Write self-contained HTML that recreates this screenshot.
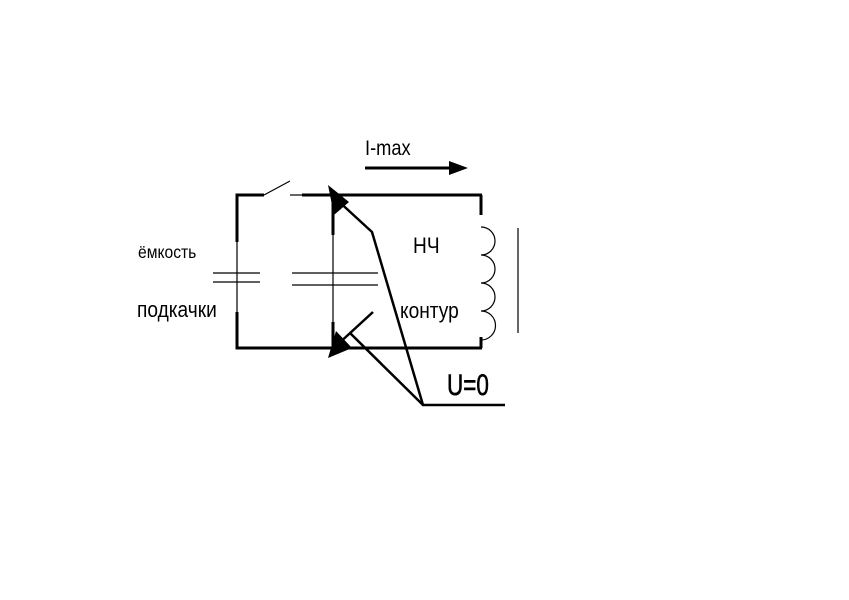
<!DOCTYPE html>
<html><head><meta charset="utf-8"><style>body{margin:0;background:#fff}svg{display:block}</style></head><body>
<svg width="849" height="600" viewBox="0 0 849 600" xmlns="http://www.w3.org/2000/svg" font-family="Liberation Sans, sans-serif">
<g stroke="#000" fill="none" stroke-width="3">
<polyline points="237,242 237,195 264,195"/>
<line x1="302" y1="195" x2="482" y2="195"/>
<line x1="481" y1="195" x2="481" y2="215"/>
<polyline points="237,312 237,348 482,348"/>
<line x1="481" y1="337" x2="481" y2="348"/>
<line x1="333" y1="195" x2="333" y2="235"/>
<line x1="333" y1="322" x2="333" y2="348"/>
<line x1="365" y1="168" x2="450" y2="168"/>
</g>
<g stroke="#000" fill="none" stroke-width="1.2">
<line x1="264" y1="195" x2="290" y2="181"/>
<line x1="290" y1="195" x2="302" y2="195"/>
<line x1="237" y1="242" x2="237" y2="312"/>
<line x1="213" y1="273" x2="260" y2="273"/>
<line x1="213" y1="282" x2="260" y2="282"/>
<line x1="333" y1="235" x2="333" y2="322"/>
<line x1="292" y1="273" x2="378" y2="273"/>
<line x1="292" y1="285" x2="378" y2="285"/>
<path d="M481,227 a14,14 0 0 1 0,28 a14,14 0 0 1 0,28 a14,14 0 0 1 0,28 a14,14 0 0 1 0,29"/>
<line x1="518" y1="228" x2="518" y2="333"/>
</g>
<g stroke="#000" fill="none" stroke-width="2.5">
<polyline points="335,198 372,232 423,405 505,405"/>
<line x1="423" y1="405" x2="350" y2="333"/>
<line x1="373" y1="312" x2="336" y2="346"/>
</g>
<polygon points="449,161 468,168 449,175" fill="#000"/>
<polygon points="328,185 349,202 334,215" fill="#000"/>
<polygon points="328,358 336,331 352,348" fill="#000"/>
<g transform="translate(365 155) scale(0.87 1)"><text font-size="21">I-max</text></g>
<g transform="translate(413 253) scale(0.87 1)"><text font-size="22">НЧ</text></g>
<g transform="translate(400 318) scale(0.87 1)"><text font-size="22">контур</text></g>
<g transform="translate(138 258) scale(0.87 1)"><text font-size="18">ёмкость</text></g>
<g transform="translate(137 317) scale(0.87 1)"><text font-size="22">подкачки</text></g>
<g transform="translate(447 395) scale(0.75 1)"><text font-size="30" stroke="#000" stroke-width="0.6">U=0</text></g>
</svg>
</body></html>
